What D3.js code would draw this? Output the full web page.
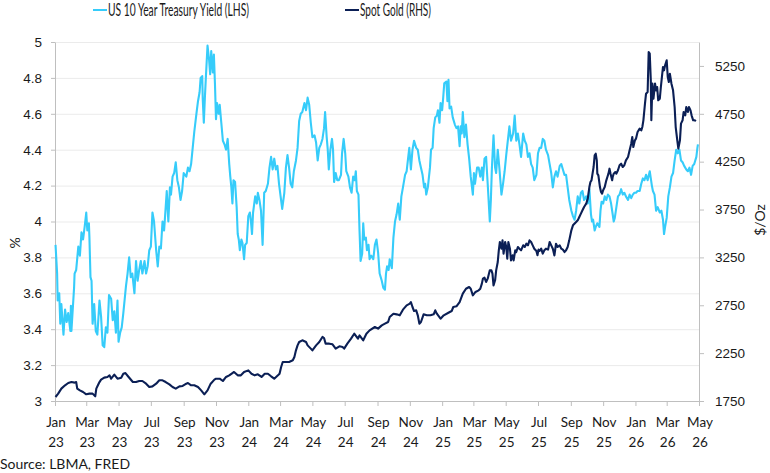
<!DOCTYPE html>
<html>
<head>
<meta charset="utf-8">
<script src="https://cdnjs.cloudflare.com/ajax/libs/d3/7.8.5/d3.min.js"></script>
<style>
  body { margin: 0; background: #fff; }
  svg { display: block; font-family: Lato, "Open Sans", sans-serif; }
  .axis path, .axis line { stroke: #bfbfbf; }
  .axis text { fill: #1a1a1a; font-size: 13.5px; }
  .gridline line { stroke: #ebebeb; }
  .gridline path { display: none; }
</style>
</head>
<body>
<svg id="chart" width="770" height="473"></svg>
<script>
// ===== data =====
const yieldSeries = [
  ["2023-01-02",3.87],["2023-01-05",3.71],["2023-01-06",3.56],["2023-01-09",3.60],["2023-01-11",3.43],["2023-01-13",3.54],
  ["2023-01-17",3.37],["2023-01-20",3.51],["2023-01-23",3.44],["2023-01-26",3.49],["2023-01-30",3.39],["2023-01-31",3.53],
  ["2023-02-01",3.39],["2023-02-06",3.63],["2023-02-07",3.71],["2023-02-10",3.73],["2023-02-14",3.86],["2023-02-17",3.81],
  ["2023-02-20",3.94],["2023-02-23",3.90],["2023-02-26",3.97],["2023-03-01",4.05],["2023-03-03",3.95],["2023-03-06",3.99],
  ["2023-03-07",3.91],["2023-03-09",3.69],["2023-03-11",3.67],["2023-03-13",3.43],["2023-03-16",3.54],["2023-03-19",3.39],
  ["2023-03-22",3.37],["2023-03-26",3.56],["2023-03-29",3.47],["2023-04-01",3.31],["2023-04-04",3.30],["2023-04-07",3.41],
  ["2023-04-10",3.38],["2023-04-13",3.59],["2023-04-17",3.57],["2023-04-20",3.45],["2023-04-23",3.50],["2023-04-26",3.38],
  ["2023-04-29",3.56],["2023-05-01",3.33],["2023-05-04",3.38],["2023-05-07",3.41],["2023-05-10",3.49],["2023-05-15",3.64],
  ["2023-05-18",3.71],["2023-05-21",3.80],["2023-05-24",3.69],["2023-05-27",3.71],["2023-05-31",3.60],["2023-06-03",3.78],
  ["2023-06-06",3.67],["2023-06-09",3.73],["2023-06-12",3.78],["2023-06-15",3.71],["2023-06-19",3.78],["2023-06-22",3.71],
  ["2023-06-25",3.75],["2023-06-28",3.84],["2023-07-01",3.86],["2023-07-04",4.05],["2023-07-07",4.00],["2023-07-11",3.84],
  ["2023-07-14",3.75],["2023-07-17",3.86],["2023-07-20",3.85],["2023-07-23",4.00],["2023-07-26",3.95],["2023-07-29",4.08],
  ["2023-07-31",4.17],["2023-08-03",4.00],["2023-08-06",4.19],["2023-08-08",4.15],["2023-08-11",4.25],["2023-08-14",4.27],
  ["2023-08-17",4.33],["2023-08-20",4.23],["2023-08-23",4.19],["2023-08-26",4.12],["2023-08-29",4.17],["2023-09-01",4.27],
  ["2023-09-06",4.25],["2023-09-09",4.30],["2023-09-12",4.28],["2023-09-15",4.32],["2023-09-18",4.41],["2023-09-21",4.50],
  ["2023-09-25",4.60],["2023-09-28",4.67],["2023-10-01",4.72],["2023-10-03",4.80],["2023-10-06",4.81],["2023-10-07",4.68],
  ["2023-10-09",4.55],["2023-10-11",4.69],["2023-10-13",4.81],["2023-10-16",4.98],["2023-10-19",4.90],["2023-10-21",4.82],
  ["2023-10-23",4.95],["2023-10-26",4.83],["2023-10-28",4.93],["2023-10-30",4.77],["2023-11-01",4.57],["2023-11-03",4.66],
  ["2023-11-06",4.60],["2023-11-08",4.65],["2023-11-11",4.55],["2023-11-14",4.45],["2023-11-17",4.43],["2023-11-20",4.40],
  ["2023-11-23",4.46],["2023-11-26",4.32],["2023-11-28",4.25],["2023-11-30",4.19],["2023-12-02",4.10],["2023-12-04",4.23],
  ["2023-12-07",4.22],["2023-12-10",4.08],["2023-12-12",3.93],["2023-12-14",3.90],["2023-12-16",3.84],["2023-12-19",3.90],
  ["2023-12-21",3.88],["2023-12-24",3.79],["2023-12-26",3.87],["2023-12-29",3.88],
  ["2024-01-01",4.03],["2024-01-04",4.05],["2024-01-06",4.00],["2024-01-08",3.93],["2024-01-10",4.05],["2024-01-14",4.14],
  ["2024-01-17",4.10],["2024-01-19",4.16],["2024-01-22",4.12],["2024-01-25",4.06],["2024-01-28",3.87],["2024-01-31",4.16],
  ["2024-02-03",4.17],["2024-02-07",4.21],["2024-02-10",4.30],["2024-02-13",4.36],["2024-02-16",4.29],["2024-02-19",4.35],
  ["2024-02-22",4.29],["2024-02-25",4.31],["2024-02-28",4.21],["2024-03-02",4.14],["2024-03-05",4.07],["2024-03-09",4.16],
  ["2024-03-12",4.30],["2024-03-15",4.37],["2024-03-18",4.30],["2024-03-21",4.21],["2024-03-24",4.19],["2024-03-27",4.28],
  ["2024-03-31",4.34],["2024-04-03",4.41],["2024-04-06",4.56],["2024-04-09",4.60],["2024-04-12",4.61],["2024-04-16",4.66],
  ["2024-04-19",4.62],["2024-04-22",4.69],["2024-04-25",4.65],["2024-04-28",4.55],["2024-05-01",4.47],["2024-05-05",4.48],
  ["2024-05-08",4.44],["2024-05-11",4.34],["2024-05-14",4.41],["2024-05-17",4.43],["2024-05-20",4.46],["2024-05-23",4.52],
  ["2024-05-25",4.61],["2024-05-28",4.47],["2024-05-30",4.40],["2024-06-01",4.29],["2024-06-04",4.40],["2024-06-07",4.46],
  ["2024-06-09",4.40],["2024-06-11",4.22],["2024-06-14",4.27],["2024-06-17",4.23],["2024-06-20",4.23],["2024-06-24",4.26],
  ["2024-06-26",4.38],["2024-06-29",4.46],["2024-07-02",4.38],["2024-07-04",4.28],["2024-07-08",4.25],["2024-07-11",4.19],
  ["2024-07-14",4.16],["2024-07-17",4.25],["2024-07-20",4.23],["2024-07-22",4.28],["2024-07-24",4.17],["2024-07-27",4.15],
  ["2024-07-29",3.95],["2024-07-31",3.78],["2024-08-03",3.82],["2024-08-05",3.99],["2024-08-07",3.90],["2024-08-10",3.91],
  ["2024-08-12",3.84],["2024-08-15",3.87],["2024-08-17",3.79],["2024-08-20",3.81],["2024-08-24",3.79],["2024-08-27",3.87],
  ["2024-08-30",3.90],["2024-09-02",3.83],["2024-09-05",3.71],["2024-09-09",3.67],["2024-09-12",3.63],["2024-09-15",3.62],
  ["2024-09-17",3.71],["2024-09-19",3.75],["2024-09-22",3.73],["2024-09-24",3.79],["2024-09-28",3.74],["2024-10-01",3.91],
  ["2024-10-04",4.00],["2024-10-07",4.04],["2024-10-10",4.10],["2024-10-13",4.01],["2024-10-16",4.14],["2024-10-19",4.19],
  ["2024-10-23",4.26],["2024-10-26",4.28],["2024-10-29",4.36],["2024-10-31",4.41],["2024-11-03",4.29],["2024-11-06",4.40],
  ["2024-11-09",4.45],["2024-11-13",4.41],["2024-11-16",4.40],["2024-11-19",4.34],["2024-11-22",4.30],["2024-11-25",4.26],
  ["2024-11-28",4.19],["2024-11-30",4.21],["2024-12-02",4.15],["2024-12-05",4.19],["2024-12-09",4.30],["2024-12-11",4.40],
  ["2024-12-14",4.41],["2024-12-16",4.52],["2024-12-19",4.58],["2024-12-22",4.59],["2024-12-24",4.62],["2024-12-27",4.55],
  ["2024-12-29",4.66],
  ["2025-01-01",4.62],["2025-01-03",4.69],["2025-01-05",4.77],["2025-01-09",4.78],["2025-01-11",4.67],["2025-01-13",4.79],
  ["2025-01-15",4.63],["2025-01-18",4.64],["2025-01-21",4.58],["2025-01-25",4.54],["2025-01-28",4.52],["2025-01-31",4.53],
  ["2025-02-03",4.42],["2025-02-05",4.53],["2025-02-07",4.49],["2025-02-09",4.61],["2025-02-12",4.47],["2025-02-15",4.54],
  ["2025-02-18",4.43],["2025-02-21",4.35],["2025-02-24",4.25],["2025-02-28",4.15],["2025-03-02",4.27],["2025-03-04",4.21],
  ["2025-03-08",4.30],["2025-03-11",4.30],["2025-03-14",4.25],["2025-03-17",4.30],["2025-03-19",4.23],["2025-03-22",4.35],
  ["2025-03-25",4.36],["2025-03-28",4.21],["2025-04-01",4.00],["2025-04-03",4.12],["2025-04-05",4.30],["2025-04-08",4.48],
  ["2025-04-11",4.30],["2025-04-13",4.27],["2025-04-16",4.40],["2025-04-19",4.30],["2025-04-23",4.15],["2025-04-26",4.21],
  ["2025-04-29",4.28],["2025-05-02",4.37],["2025-05-05",4.45],["2025-05-08",4.53],["2025-05-11",4.45],["2025-05-15",4.49],
  ["2025-05-18",4.59],["2025-05-21",4.45],["2025-05-24",4.49],["2025-05-27",4.43],["2025-05-30",4.36],["2025-06-03",4.49],
  ["2025-06-06",4.45],["2025-06-09",4.43],["2025-06-12",4.36],["2025-06-15",4.38],["2025-06-18",4.32],["2025-06-21",4.30],
  ["2025-06-24",4.23],["2025-06-28",4.26],["2025-07-01",4.38],["2025-07-04",4.41],["2025-07-07",4.41],["2025-07-10",4.46],
  ["2025-07-13",4.45],["2025-07-16",4.40],["2025-07-20",4.37],["2025-07-23",4.32],["2025-07-26",4.27],["2025-07-29",4.19],
  ["2025-08-01",4.25],["2025-08-04",4.28],["2025-08-07",4.25],["2025-08-11",4.31],["2025-08-14",4.32],["2025-08-17",4.29],
  ["2025-08-20",4.26],["2025-08-23",4.26],["2025-08-26",4.19],["2025-08-29",4.12],["2025-09-02",4.06],["2025-09-05",4.03],
  ["2025-09-08",4.01],["2025-09-11",4.06],["2025-09-14",4.14],["2025-09-17",4.10],["2025-09-20",4.16],["2025-09-23",4.17],
  ["2025-09-26",4.12],["2025-09-30",4.14],["2025-10-03",4.10],["2025-10-06",4.18],["2025-10-09",4.04],["2025-10-11",4.00],
  ["2025-10-13",4.01],["2025-10-16",3.95],["2025-10-18",3.97],["2025-10-21",3.99],["2025-10-25",3.97],["2025-10-27",4.06],
  ["2025-10-29",4.11],["2025-11-01",4.10],["2025-11-04",4.14],["2025-11-07",4.12],["2025-11-10",4.15],["2025-11-13",4.14],
  ["2025-11-16",4.10],["2025-11-18",4.06],["2025-11-21",4.00],["2025-11-23",4.02],["2025-11-26",4.08],["2025-11-29",4.14],
  ["2025-12-02",4.15],["2025-12-05",4.18],["2025-12-08",4.15],["2025-12-11",4.16],["2025-12-14",4.14],["2025-12-18",4.12],
  ["2025-12-21",4.15],["2025-12-24",4.13],["2025-12-27",4.15],["2025-12-30",4.16],
  ["2026-01-02",4.16],["2026-01-05",4.17],["2026-01-09",4.17],["2026-01-12",4.21],["2026-01-15",4.24],["2026-01-18",4.23],
  ["2026-01-21",4.26],["2026-01-24",4.23],["2026-01-28",4.28],["2026-01-30",4.24],["2026-02-01",4.20],["2026-02-03",4.17],
  ["2026-02-06",4.15],["2026-02-09",4.06],["2026-02-12",4.08],["2026-02-16",4.05],["2026-02-19",4.06],["2026-02-22",4.01],
  ["2026-02-24",3.93],["2026-02-26",3.97],["2026-03-01",4.02],["2026-03-04",4.14],["2026-03-07",4.19],["2026-03-10",4.25],
  ["2026-03-13",4.27],["2026-03-16",4.34],["2026-03-19",4.40],["2026-03-22",4.38],["2026-03-25",4.40],["2026-03-28",4.34],
  ["2026-03-31",4.33],["2026-04-03",4.31],["2026-04-07",4.29],["2026-04-10",4.28],["2026-04-13",4.30],["2026-04-16",4.26],
  ["2026-04-19",4.31],["2026-04-22",4.32],["2026-04-26",4.36],["2026-04-28",4.41],["2026-04-29",4.43]
];

const goldSeries = [
  ["2023-01-02",1792],["2023-01-07",1827],["2023-01-13",1879],["2023-01-20",1914],["2023-01-26",1938],["2023-02-01",1948],
  ["2023-02-07",1942],["2023-02-10",1948],["2023-02-12",1879],["2023-02-17",1861],["2023-02-23",1844],["2023-03-01",1820],
  ["2023-03-07",1827],["2023-03-13",1827],["2023-03-18",1799],["2023-03-20",1879],["2023-03-23",1914],["2023-03-26",1948],
  ["2023-03-29",1973],["2023-04-04",1994],["2023-04-10",2001],["2023-04-14",2018],["2023-04-17",1983],["2023-04-23",2025],
  ["2023-04-29",1983],["2023-05-06",1994],["2023-05-10",2035],["2023-05-14",2042],["2023-05-20",2001],["2023-05-28",1948],
  ["2023-06-03",1948],["2023-06-09",1959],["2023-06-15",1959],["2023-06-22",1931],["2023-06-28",1896],["2023-07-04",1903],
  ["2023-07-11",1931],["2023-07-17",1966],["2023-07-23",1966],["2023-07-29",1948],["2023-08-05",1924],["2023-08-11",1896],
  ["2023-08-17",1879],["2023-08-24",1903],["2023-08-30",1907],["2023-09-06",1931],["2023-09-09",1938],["2023-09-15",1914],
  ["2023-09-21",1914],["2023-09-28",1896],["2023-10-04",1861],["2023-10-10",1820],["2023-10-16",1861],["2023-10-22",1931],
  ["2023-10-29",1973],["2023-11-01",1983],["2023-11-08",1983],["2023-11-14",1959],["2023-11-20",2001],["2023-11-26",2018],
  ["2023-12-02",2042],["2023-12-05",2053],["2023-12-12",2018],["2023-12-18",2018],["2023-12-24",2053],
  ["2024-01-01",2070],["2024-01-07",2035],["2024-01-13",2018],["2024-01-19",2029],["2024-01-26",2001],["2024-02-01",2035],
  ["2024-02-07",2035],["2024-02-13",2008],["2024-02-19",1983],["2024-02-26",2018],["2024-02-29",2035],["2024-03-03",2105],
  ["2024-03-06",2157],["2024-03-12",2157],["2024-03-18",2157],["2024-03-25",2175],["2024-03-28",2210],["2024-03-31",2279],
  ["2024-04-03",2331],["2024-04-06",2366],["2024-04-12",2384],["2024-04-19",2366],["2024-04-22",2331],["2024-04-28",2297],
  ["2024-05-01",2279],["2024-05-08",2331],["2024-05-14",2366],["2024-05-20",2419],["2024-05-23",2408],["2024-05-26",2349],
  ["2024-06-02",2349],["2024-06-08",2342],["2024-06-14",2297],["2024-06-21",2321],["2024-06-27",2314],["2024-06-30",2297],
  ["2024-07-06",2349],["2024-07-13",2401],["2024-07-19",2453],["2024-07-26",2401],["2024-07-29",2436],["2024-08-05",2384],
  ["2024-08-11",2453],["2024-08-17",2488],["2024-08-27",2523],["2024-09-02",2506],["2024-09-09",2540],["2024-09-15",2558],
  ["2024-09-21",2575],["2024-09-24",2627],["2024-10-01",2662],["2024-10-07",2655],["2024-10-13",2645],["2024-10-19",2704],
  ["2024-10-26",2749],["2024-11-01",2767],["2024-11-03",2784],["2024-11-06",2732],["2024-11-09",2690],["2024-11-13",2697],
  ["2024-11-16",2645],["2024-11-19",2558],["2024-11-22",2575],["2024-11-27",2655],["2024-12-03",2645],["2024-12-10",2645],
  ["2024-12-16",2655],["2024-12-19",2697],["2024-12-22",2662],["2024-12-29",2610],
  ["2025-01-04",2645],["2025-01-12",2669],["2025-01-19",2690],["2025-01-22",2732],["2025-01-28",2739],["2025-02-03",2784],
  ["2025-02-09",2871],["2025-02-15",2923],["2025-02-21",2941],["2025-02-24",2923],["2025-02-28",2854],["2025-03-05",2889],
  ["2025-03-11",2906],["2025-03-14",2923],["2025-03-17",2976],["2025-03-19",3028],["2025-03-22",3038],["2025-03-25",2993],
  ["2025-03-28",3028],["2025-04-01",3115],["2025-04-04",3115],["2025-04-06",3080],["2025-04-08",2958],["2025-04-11",3011],
  ["2025-04-13",3115],["2025-04-16",3202],["2025-04-18",3324],["2025-04-20",3411],["2025-04-23",3341],["2025-04-25",3428],
  ["2025-04-27",3289],["2025-04-30",3411],["2025-05-02",3359],["2025-05-04",3237],["2025-05-06",3411],["2025-05-09",3341],
  ["2025-05-11",3219],["2025-05-14",3272],["2025-05-16",3219],["2025-05-19",3324],["2025-05-21",3306],["2025-05-24",3359],
  ["2025-05-27",3341],["2025-05-30",3324],["2025-06-03",3376],["2025-06-06",3359],["2025-06-09",3393],["2025-06-12",3376],
  ["2025-06-15",3428],["2025-06-18",3411],["2025-06-21",3376],["2025-06-24",3341],["2025-06-28",3317],["2025-06-30",3272],
  ["2025-07-02",3331],["2025-07-04",3317],["2025-07-07",3341],["2025-07-10",3289],["2025-07-13",3324],["2025-07-16",3341],
  ["2025-07-20",3331],["2025-07-23",3411],["2025-07-26",3376],["2025-07-29",3341],["2025-08-01",3271],["2025-08-04",3393],
  ["2025-08-07",3359],["2025-08-11",3376],["2025-08-14",3341],["2025-08-17",3331],["2025-08-20",3306],["2025-08-23",3324],
  ["2025-08-26",3359],["2025-08-29",3428],["2025-09-02",3533],["2025-09-05",3585],["2025-09-11",3620],["2025-09-14",3637],
  ["2025-09-17",3672],["2025-09-20",3707],["2025-09-23",3742],["2025-09-26",3777],["2025-09-30",3811],["2025-10-03",3864],
  ["2025-10-06",3985],["2025-10-08",4038],["2025-10-10",4055],["2025-10-12",4125],["2025-10-14",4194],["2025-10-16",4316],
  ["2025-10-18",4333],["2025-10-20",4264],["2025-10-21",4125],["2025-10-23",4107],["2025-10-26",3985],["2025-10-28",3933],
  ["2025-10-30",3916],["2025-11-01",3951],["2025-11-04",3985],["2025-11-07",4055],["2025-11-09",4090],["2025-11-11",4125],
  ["2025-11-13",4177],["2025-11-15",4125],["2025-11-18",4055],["2025-11-19",4090],["2025-11-21",4125],["2025-11-24",4142],
  ["2025-11-26",4125],["2025-11-29",4160],["2025-12-02",4212],["2025-12-05",4229],["2025-12-08",4194],["2025-12-11",4212],
  ["2025-12-14",4264],["2025-12-18",4299],["2025-12-21",4368],["2025-12-24",4438],["2025-12-26",4508],["2025-12-28",4403],
  ["2025-12-31",4473],
  ["2026-01-02",4490],["2026-01-05",4560],["2026-01-09",4595],["2026-01-12",4577],["2026-01-14",4612],["2026-01-16",4682],
  ["2026-01-19",4856],["2026-01-21",4960],["2026-01-24",4978],["2026-01-26",5396],["2026-01-28",5379],["2026-01-30",5100],
  ["2026-01-31",4682],["2026-02-02",5065],["2026-02-04",4908],["2026-02-07",5065],["2026-02-09",4995],["2026-02-11",5030],
  ["2026-02-13",4891],["2026-02-16",4908],["2026-02-18",5030],["2026-02-20",5135],["2026-02-22",5239],["2026-02-24",5204],
  ["2026-02-26",5257],["2026-03-01",5309],["2026-03-03",5135],["2026-03-05",5082],["2026-03-07",5169],["2026-03-10",5065],
  ["2026-03-13",4995],["2026-03-16",4821],["2026-03-18",4612],["2026-03-21",4473],["2026-03-23",4386],["2026-03-26",4473],
  ["2026-03-28",4647],["2026-03-31",4682],["2026-04-02",4769],["2026-04-05",4734],["2026-04-07",4821],["2026-04-10",4769],
  ["2026-04-12",4821],["2026-04-15",4786],["2026-04-17",4734],["2026-04-20",4682],["2026-04-23",4682],["2026-04-25",4671]
];

const leftTicks  = [3, 3.2, 3.4, 3.6, 3.8, 4, 4.2, 4.4, 4.6, 4.8, 5];
const leftLabels = ["3", "3.2", "3.4", "3.6", "3.8", "4", "4.2", "4.4", "4.6", "4.8", "5"];
const rightTicks = [1750, 2250, 2750, 3250, 3750, 4250, 4750, 5250];
const xTickDates = ["2023-01-01","2023-03-01","2023-05-01","2023-07-01","2023-09-01","2023-11-01",
                    "2024-01-01","2024-03-01","2024-05-01","2024-07-01","2024-09-01","2024-11-01",
                    "2025-01-01","2025-03-01","2025-05-01","2025-07-01","2025-09-01","2025-11-01",
                    "2026-01-01","2026-03-01","2026-05-01"];
const xTickMonths = ["Jan","Mar","May","Jul","Sep","Nov","Jan","Mar","May","Jul","Sep","Nov",
                     "Jan","Mar","May","Jul","Sep","Nov","Jan","Mar","May"];
const xTickYears  = ["23","23","23","23","23","23","24","24","24","24","24","24",
                     "25","25","25","25","25","25","26","26","26"];

const YIELD_COLOR = "#36ccfa";
const GOLD_COLOR  = "#0b1f55";

// ===== layout =====
const parse = d3.timeParse("%Y-%m-%d");
const L = 55, R = 699, T = 42, B = 401;

const svg = d3.select("#chart");

const x  = d3.scaleTime().domain([parse("2023-01-01"), parse("2026-05-01")]).range([L, R]);
const yL = d3.scaleLinear().domain([3, 5]).range([B, T]);
const yR = d3.scaleLinear().domain([1750, 5500]).range([B, T]);

// horizontal gridlines (on left ticks)
svg.append("g").attr("class", "gridline")
  .attr("transform", `translate(${L},0)`)
  .call(d3.axisLeft(yL).tickValues(leftTicks.slice(1)).tickSize(-(R - L)).tickFormat(""));

// left axis
svg.append("g").attr("class", "axis")
  .attr("transform", `translate(${L},0)`)
  .call(d3.axisLeft(yL).tickValues(leftTicks).tickFormat((d, i) => leftLabels[i])
    .tickSizeInner(4).tickSizeOuter(0).tickPadding(9));

// right axis
svg.append("g").attr("class", "axis")
  .attr("transform", `translate(${R},0)`)
  .call(d3.axisRight(yR).tickValues(rightTicks).tickFormat(d3.format("d"))
    .tickSizeInner(5).tickSizeOuter(0).tickPadding(11));

// bottom axis: tick marks only, labels drawn as two lines below
const xTicks = xTickDates.map(parse);
svg.append("g").attr("class", "axis")
  .attr("transform", `translate(0,${B})`)
  .call(d3.axisBottom(x).tickValues(xTicks).tickFormat("").tickSizeInner(5).tickSizeOuter(0));

const xLab = svg.append("g").attr("class", "axis")
  .selectAll("text")
  .data(xTicks)
  .join("text")
  .attr("text-anchor", "middle")
  .attr("x", d => x(d) + 1);
xLab.append("tspan").attr("x", d => x(d) + 1).attr("y", 427).text((d, i) => xTickMonths[i]);
xLab.append("tspan").attr("x", d => x(d) + 1).attr("y", 447).text((d, i) => xTickYears[i]);

// ===== lines =====
const yieldLine = d3.line().x(d => x(parse(d[0]))).y(d => yL(d[1]));
const goldLine  = d3.line().x(d => x(parse(d[0]))).y(d => yR(d[1]));

svg.append("path").datum(yieldSeries)
  .attr("fill", "none").attr("stroke", YIELD_COLOR).attr("stroke-width", 2.1)
  .attr("stroke-linejoin", "round").attr("d", yieldLine);

svg.append("path").datum(goldSeries)
  .attr("fill", "none").attr("stroke", GOLD_COLOR).attr("stroke-width", 2.1)
  .attr("stroke-linejoin", "round").attr("d", goldLine);

// ===== axis titles =====
svg.append("text").attr("transform", "translate(20,243) rotate(-90)")
  .attr("text-anchor", "middle").style("font-size", "14px").attr("fill", "#1a1a1a").text("%");
svg.append("text").attr("transform", "translate(765,220) rotate(-90)")
  .attr("text-anchor", "middle").style("font-size", "14px").attr("fill", "#1a1a1a").text("$/Oz");

// ===== legend =====
const legend = [
  { label: "US 10 Year Treasury Yield (LHS)", color: YIELD_COLOR, x: 93, w: 141 },
  { label: "Spot Gold (RHS)", color: GOLD_COLOR, x: 345, w: 71 }
];
const lg = svg.append("g").selectAll("g").data(legend).join("g");
lg.append("line")
  .attr("x1", d => d.x).attr("x2", d => d.x + 14).attr("y1", 10).attr("y2", 10)
  .attr("stroke", d => d.color).attr("stroke-width", 2);
lg.append("text")
  .attr("x", d => d.x + 15).attr("y", 15.5)
  .attr("textLength", d => d.w).attr("lengthAdjust", "spacingAndGlyphs")
  .style("font-size", "16.5px").attr("fill", "#1a1a1a")
  .text(d => d.label);

// ===== source =====
svg.append("text").attr("x", 0).attr("y", 469)
  .style("font-size", "14px").attr("fill", "#1a1a1a")
  .text("Source: LBMA, FRED");
</script>
</body>
</html>
